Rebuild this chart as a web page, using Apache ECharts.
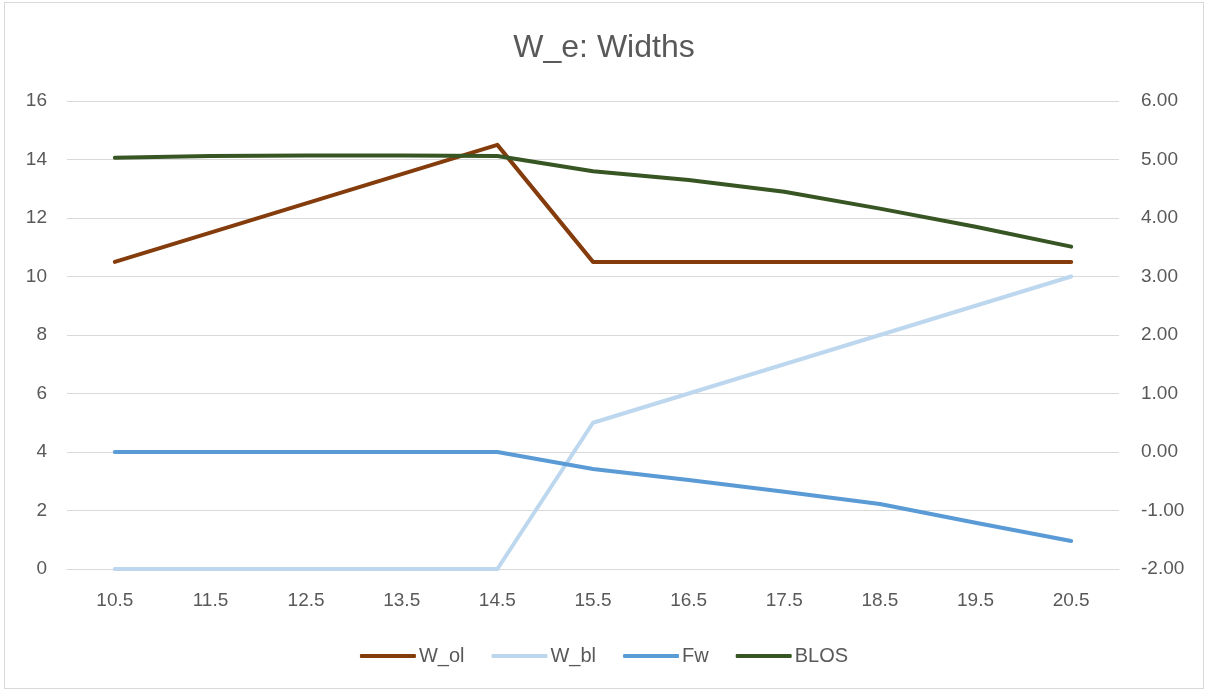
<!DOCTYPE html>
<html>
<head>
<meta charset="utf-8">
<title>W_e: Widths</title>
<script src="https://cdn.jsdelivr.net/npm/echarts@6/dist/echarts.min.js"></script>
<style>
  html, body { margin: 0; padding: 0; background: #fff; }
  #chart {
    position: absolute;
    left: 4px; top: 2px;
    width: 1200px; height: 687px;
    border: 1px solid #d9d9d9;
    box-sizing: border-box;
  }
</style>
</head>
<body>
<div id="chart"></div>
<script>
// data
const categories = ['10.5', '11.5', '12.5', '13.5', '14.5', '15.5', '16.5', '17.5', '18.5', '19.5', '20.5']
const wOl = [10.5, 11.5, 12.5, 13.5, 14.5, 10.5, 10.5, 10.5, 10.5, 10.5, 10.5]
const wBl = [0, 0, 0, 0, 0, 5, 6, 7, 8, 9, 10]
const fw = [0, 0, 0, 0, 0, -0.29, -0.48, -0.68, -0.89, -1.21, -1.52]
const blos = [5.03, 5.06, 5.07, 5.07, 5.06, 4.80, 4.65, 4.45, 4.16, 3.85, 3.51]

const FONT = '"Liberation Sans", "Open Sans", sans-serif'
const labelColor = '#595959'

const chart = echarts.init(document.getElementById('chart'))

const lineSeries = (name, data, color, axis) => ({
  name,
  type: 'line',
  yAxisIndex: axis,
  data,
  symbol: 'none',
  lineStyle: { color, width: 4, cap: 'round', join: 'round' },
  itemStyle: { color },
  emphasis: { disabled: true }
})

const option = {
  animation: false,
  textStyle: { fontFamily: FONT },
  title: {
    text: 'W_e: Widths',
    left: 'center',
    top: 24,
    textStyle: { fontFamily: FONT, fontSize: 32, fontWeight: 'normal', color: labelColor }
  },
  legend: {
    bottom: 17,
    left: 'center',
    itemWidth: 56,
    itemHeight: 4,
    itemGap: 27,
    textStyle: { fontFamily: FONT, fontSize: 20, color: labelColor, padding: [0, 0, 0, -2] },
    icon: 'roundRect'
  },
  grid: {
    left: 62,
    right: 84,
    top: 98,
    bottom: 119
  },
  xAxis: {
    type: 'category',
    data: categories,
    boundaryGap: true,
    axisLine: { lineStyle: { color: '#d9d9d9', width: 1 } },
    axisTick: { show: false },
    axisLabel: { color: labelColor, fontSize: 19, margin: 22, fontFamily: FONT }
  },
  yAxis: [
    {
      type: 'value',
      min: 0,
      max: 16,
      interval: 2,
      axisLine: { show: false },
      axisTick: { show: false },
      axisLabel: { color: labelColor, fontSize: 19, margin: 20, fontFamily: FONT },
      splitLine: { lineStyle: { color: '#d9d9d9', width: 1 } }
    },
    {
      type: 'value',
      min: -2,
      max: 6,
      interval: 1,
      axisLine: { show: false },
      axisTick: { show: false },
      splitLine: { show: false },
      axisLabel: {
        color: labelColor, fontSize: 19, margin: 22, fontFamily: FONT,
        formatter: v => v.toFixed(2)
      }
    }
  ],
  series: [
    lineSeries('W_ol', wOl, '#843c0c', 0),
    lineSeries('W_bl', wBl, '#bdd7ee', 0),
    lineSeries('Fw', fw, '#5b9bd5', 1),
    lineSeries('BLOS', blos, '#375623', 1)
  ]
}

chart.setOption(option)

window.addEventListener('resize', () => {
  chart.resize()
})
</script>
</body>
</html>
